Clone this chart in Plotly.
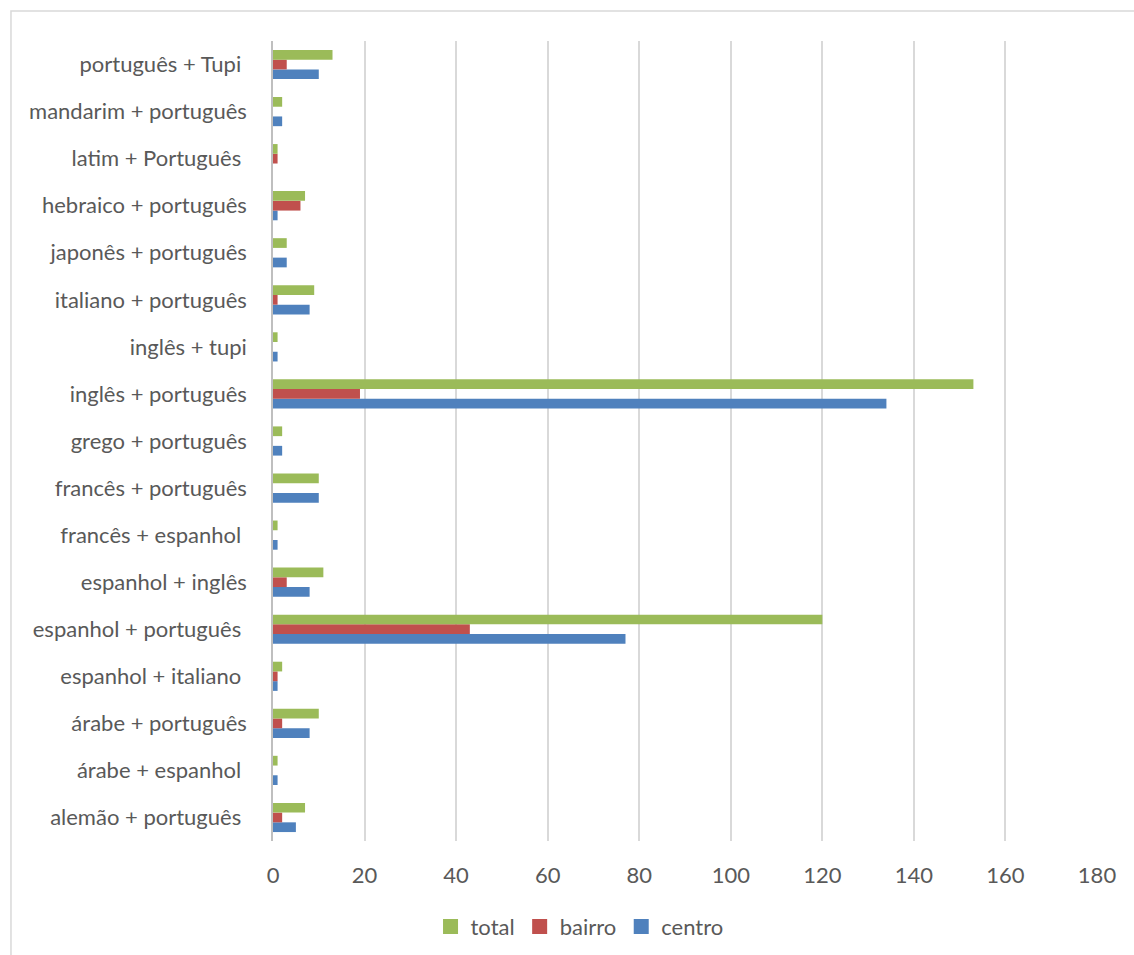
import plotly.graph_objects as go

# Language pairs (bottom to top on the chart)
categories = [
    "alemão + português\u00a0",
    "árabe + espanhol\u00a0",
    "árabe + português",
    "espanhol + italiano\u00a0",
    "espanhol + português\u00a0",
    "espanhol + inglês",
    "francês + espanhol\u00a0",
    "francês + português",
    "grego + português",
    "inglês + português",
    "inglês + tupi",
    "italiano + português",
    "japonês + português",
    "hebraico + português",
    "latim + Português\u00a0",
    "mandarim + português",
    "português + Tupi\u00a0",
]

centro = [5, 1, 8, 1, 77, 8, 1, 10, 2, 134, 1, 8, 3, 1, 0, 2, 10]
bairro = [2, 0, 2, 1, 43, 3, 0, 0, 0, 19, 0, 1, 0, 6, 1, 0, 3]
total = [7, 1, 10, 2, 120, 11, 1, 10, 2, 153, 1, 9, 3, 7, 1, 2, 13]

x_ticks = [0, 20, 40, 60, 80, 100, 120, 140, 160, 180]

COL_CENTRO = "#4F81BD"
COL_BAIRRO = "#C0504D"
COL_TOTAL = "#9BBB59"
TEXT = "#595959"
GRID = "#D9D9D9"
FONT = "Lato, 'Open Sans', sans-serif"
FS = 22

series = [("centro", centro, COL_CENTRO),
          ("bairro", bairro, COL_BAIRRO),
          ("total", total, COL_TOTAL)]

fig = go.Figure()
for name, vals, col in series:
    fig.add_trace(go.Bar(
        y=categories, x=vals, name=name, orientation="h",
        marker=dict(color=col, line=dict(width=0)),
        showlegend=False,
    ))

# legend keys drawn as larger square swatches
for name, vals, col in series:
    fig.add_trace(go.Scatter(
        x=[None], y=[None], name=name, mode="markers",
        marker=dict(symbol="square", size=15, color=col),
        showlegend=True,
    ))

fig.update_layout(
    width=1134, height=955,
    margin=dict(l=273, r=37, t=41, b=114, autoexpand=False),
    paper_bgcolor="white", plot_bgcolor="white",
    barmode="group", bargap=0.38, bargroupgap=0,
    font=dict(family=FONT, size=FS, color=TEXT),
    showlegend=True,
    legend=dict(
        orientation="h", traceorder="reversed", itemsizing="trace",
        x=0.372, xanchor="center", y=-0.107, yanchor="middle",
        font=dict(family=FONT, size=FS, color=TEXT),
        itemwidth=30,
    ),
    xaxis=dict(
        range=[0, 180], tickvals=x_ticks, ticktext=[str(v) for v in x_ticks],
        showgrid=True, gridcolor=GRID, gridwidth=1.5,
        zeroline=False, showline=False, ticks="",
        ticklabelstandoff=19, automargin=False,
        tickfont=dict(family=FONT, size=FS, color=TEXT),
    ),
    yaxis=dict(
        type="category", categoryorder="array", categoryarray=categories,
        showgrid=False, zeroline=False,
        showline=True, linecolor="#BFBFBF", linewidth=1.5,
        ticks="", ticklabelstandoff=20, automargin=False,
        tickfont=dict(family=FONT, size=FS, color=TEXT),
    ),
    shapes=[dict(
        type="rect", xref="paper", yref="paper",
        x0=-0.318, x1=1.06, y0=-0.16, y1=1.0375,
        line=dict(color=GRID, width=1.5), fillcolor="rgba(0,0,0,0)",
        layer="below",
    )],
)

fig.write_html("out.html")
